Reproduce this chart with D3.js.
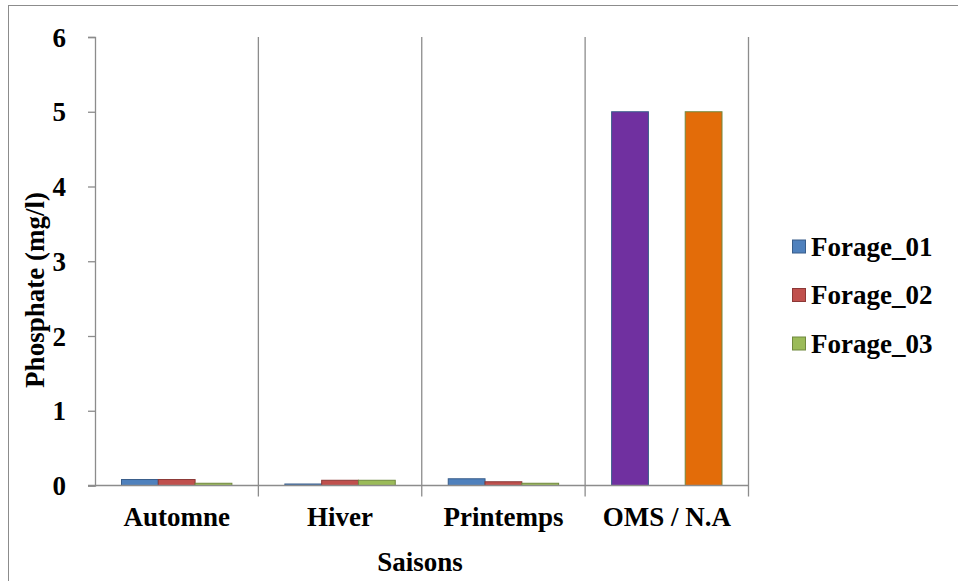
<!DOCTYPE html>
<html>
<head>
<meta charset="utf-8">
<script src="https://cdn.jsdelivr.net/npm/d3@7"></script>
<style>
  html, body { margin: 0; padding: 0; background: #fff; }
  svg { display: block; }
  text { font-family: "Liberation Serif", "DejaVu Serif", serif; font-weight: bold; fill: #000; }
</style>
</head>
<body>
<svg id="chart" width="958" height="581"></svg>
<script>
// Phosphate by season for three boreholes, with the WHO / Algerian norm
const categories = ["Automne", "Hiver", "Printemps", "OMS / N.A"];
const seriesNames = ["Forage_01", "Forage_02", "Forage_03"];
const forage01 = [0.08, 0.02, 0.09, 5];
const forage02 = [0.08, 0.07, 0.05, null];
const forage03 = [0.03, 0.07, 0.03, 5];
const yTicks = [0, 1, 2, 3, 4, 5, 6];

const fills = ["#4F81BD", "#C0504D", "#9BBB59"];
const strokes = ["#385D8A", "#8C3836", "#71893F"];
// the norm column uses its own fill colours
const normFills = { "Forage_01": "#7030A0", "Forage_03": "#E36C09" };

const FS = 27;
const svg = d3.select("#chart");
const m = { left: 95, right: 748.5, top: 37, bottom: 485.5 };

// outer frame
svg.append("rect").attr("x", 8.5).attr("y", 5.5).attr("width", 1000).attr("height", 1000)
  .attr("fill", "none").attr("stroke", "#8c8c8c").attr("stroke-width", 1);

const x = d3.scaleBand().domain(categories).range([m.left, m.right]).paddingInner(0).paddingOuter(0);
const xs = d3.scaleBand().domain(seriesNames).range([0, x.bandwidth()]).paddingInner(0).paddingOuter(0.72);
const y = d3.scaleLinear().domain([0, 6]).range([m.bottom, m.top]);

const gridColor = "#8c8c8c";

// category separators, running below the axis as tick marks
svg.append("g").selectAll("line")
  .data(categories)
  .join("line")
  .attr("x1", d => x(d) + x.bandwidth())
  .attr("x2", d => x(d) + x.bandwidth())
  .attr("y1", m.top)
  .attr("y2", m.bottom + 11)
  .attr("stroke", gridColor).attr("stroke-width", 1.3);

// y axis
const yAxis = d3.axisLeft(y).tickValues(yTicks).tickSize(7).tickPadding(22).tickFormat(d3.format("d"));
const gy = svg.append("g").attr("transform", `translate(${m.left},0)`).call(yAxis);
gy.select(".domain").attr("stroke", gridColor).attr("stroke-width", 1.3);
gy.selectAll(".tick line").attr("stroke", gridColor).attr("stroke-width", 1.3);
gy.selectAll(".tick text").attr("font-size", FS).attr("font-family", "Liberation Serif")
  .attr("font-weight", "bold").attr("fill", "#000").attr("dy", "0.34em");

// bars
const seriesData = [forage01, forage02, forage03];
const bars = [];
seriesNames.forEach((s, i) => {
  categories.forEach((c, j) => {
    const v = seriesData[i][j];
    if (v === null) return;
    const isNorm = c === "OMS / N.A";
    bars.push({ s, c, v, fill: isNorm ? normFills[s] : fills[i], stroke: strokes[i] });
  });
});
svg.append("g").selectAll("rect")
  .data(bars)
  .join("rect")
  .attr("x", d => x(d.c) + xs(d.s))
  .attr("y", d => y(d.v))
  .attr("width", xs.bandwidth())
  .attr("height", d => y(0) - y(d.v))
  .attr("fill", d => d.fill)
  .attr("stroke", d => d.stroke)
  .attr("stroke-width", 1);

// x axis baseline
svg.append("line")
  .attr("x1", m.left - 7).attr("x2", m.right)
  .attr("y1", y(0)).attr("y2", y(0))
  .attr("stroke", gridColor).attr("stroke-width", 1.3);

// category labels
svg.append("g").selectAll("text")
  .data(categories)
  .join("text")
  .attr("x", d => x(d) + x.bandwidth() / 2)
  .attr("y", 526)
  .attr("text-anchor", "middle")
  .attr("font-size", FS)
  .text(d => d);

// axis titles
svg.append("text")
  .attr("x", 420).attr("y", 571)
  .attr("text-anchor", "middle").attr("font-size", FS)
  .text("Saisons");
svg.append("text")
  .attr("transform", "translate(44,290) rotate(-90)")
  .attr("text-anchor", "middle").attr("font-size", FS)
  .text("Phosphate (mg/l)");

// legend
const legend = svg.append("g").attr("transform", "translate(792,246.5)");
const li = legend.selectAll("g").data(seriesNames).join("g")
  .attr("transform", (d, i) => `translate(0,${i * 48.5})`);
li.append("rect").attr("x", 0.5).attr("y", -6.5).attr("width", 13).attr("height", 13)
  .attr("fill", (d, i) => fills[i]).attr("stroke", (d, i) => strokes[i]).attr("stroke-width", 1);
li.append("text").attr("x", 19).attr("y", 9).attr("font-size", FS).text(d => d);
</script>
</body>
</html>
